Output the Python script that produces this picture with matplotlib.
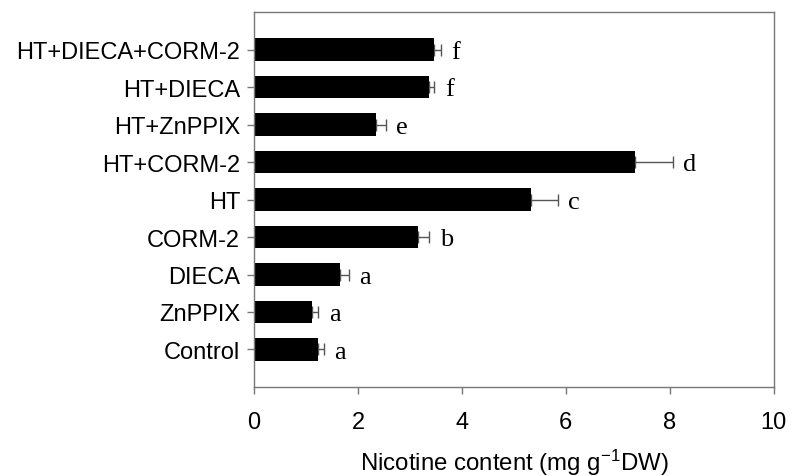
import numpy as np
import matplotlib
matplotlib.use('Agg')
import matplotlib.pyplot as plt

# values (bottom to top)
treatments = ['Control', 'ZnPPIX', 'DIECA', 'CORM-2', 'HT', 'HT+CORM-2',
              'HT+ZnPPIX', 'HT+DIECA', 'HT+DIECA+CORM-2']
nicotine = [1.24, 1.12, 1.66, 3.15, 5.32, 7.33, 2.35, 3.36, 3.46]
sem = [0.11, 0.12, 0.16, 0.22, 0.53, 0.73, 0.19, 0.11, 0.14]
letters = ['a', 'a', 'a', 'b', 'c', 'd', 'e', 'f', 'f']

plt.rcParams['font.family'] = ['Liberation Sans', 'DejaVu Sans']
plt.rcParams['mathtext.default'] = 'regular'

fig = plt.figure(figsize=(7.92, 4.77), dpi=100)
ax = fig.add_axes([0.3207, 0.1866, 0.977 - 0.3207, 0.9727 - 0.1866])

y = np.arange(len(treatments))
ax.barh(y, nicotine, height=0.61, color='black', zorder=2)
ax.errorbar(nicotine, y, xerr=[np.zeros(len(sem)), sem], fmt='none',
            ecolor='#555555', elinewidth=1, capsize=4, capthick=1, zorder=1)

for yi, m, e, lab in zip(y, nicotine, sem, letters):
    ax.text(m + e + 0.2, yi - 0.06, lab, family='Liberation Serif', fontsize=19,
            ha='left', va='center')

ax.set_xlim(0, 10)
ax.set_ylim(-1, len(treatments))
ax.set_xticks([0, 2, 4, 6, 8, 10])
ax.set_yticks(y)
ax.set_yticklabels(treatments)
ax.tick_params(axis='both', labelsize=17, color='#777777', length=5, width=1)
ax.tick_params(axis='x', pad=12)
ax.tick_params(axis='y', pad=5)
for s in ax.spines.values():
    s.set_color('#777777')
    s.set_linewidth(1)

ax.set_xlabel('Nicotine content (mg g$^{-1}$DW)', fontsize=17.3, labelpad=10)

fig.savefig('out.png', dpi=100)
